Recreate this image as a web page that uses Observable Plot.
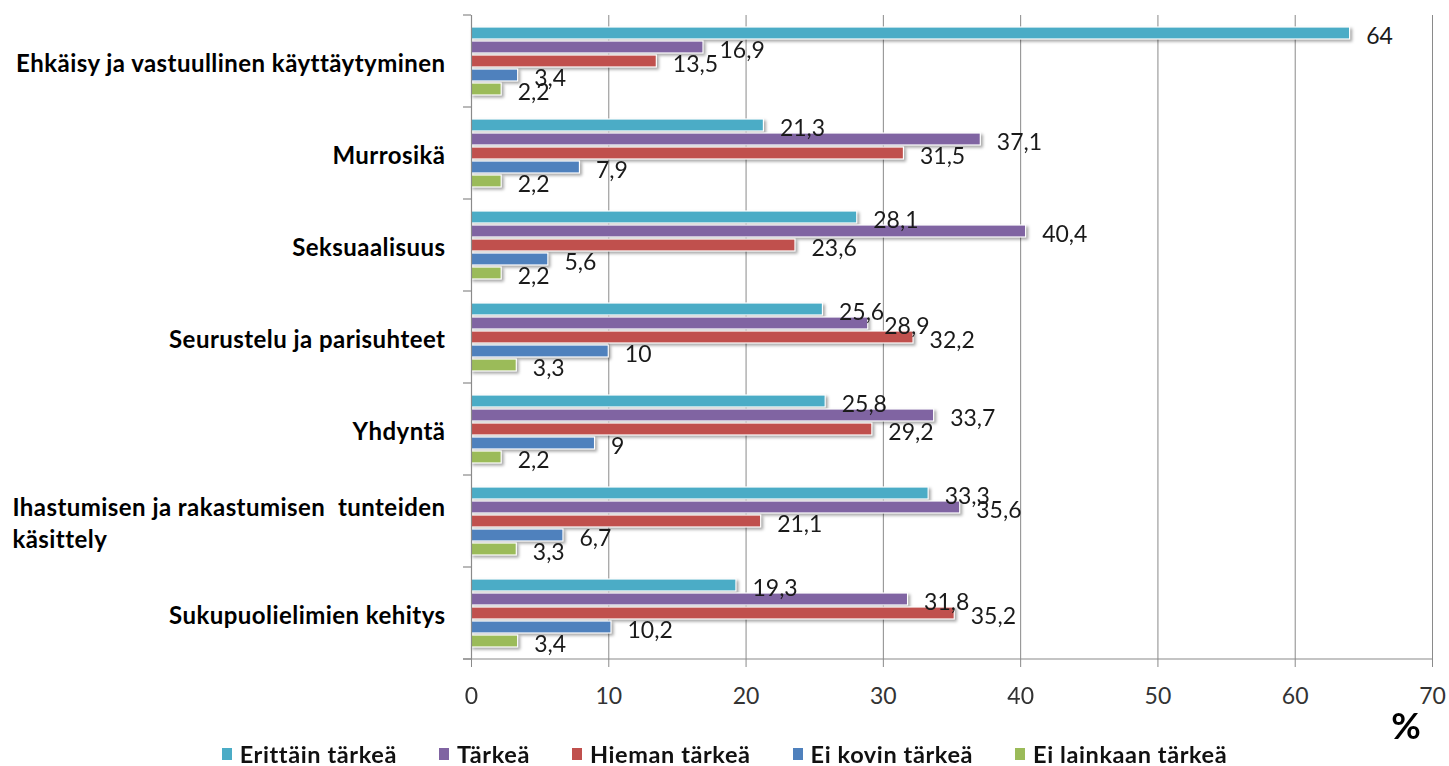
<!DOCTYPE html>
<html>
<head>
<meta charset="utf-8">
<script src="https://cdn.jsdelivr.net/npm/d3@7"></script>
<script src="https://cdn.jsdelivr.net/npm/@observablehq/plot@0.6"></script>
<style>
  html, body { margin: 0; padding: 0; background: #fff; }
  body { font-family: Lato, "Open Sans", sans-serif; width: 1449px; height: 766px; overflow: hidden; }
  #chart svg { display: block; }
  #legend { display: flex; justify-content: center; align-items: center; gap: 42px;
            height: 24px; font-family: Lato, sans-serif; font-weight: bold; font-size: 23.5px;
            letter-spacing: 0.6px; color: #111; }
  #legend .item { display: flex; align-items: center; white-space: nowrap; }
  #legend .sw { display: inline-block; width: 10px; height: 12px; margin-right: 8px; }
</style>
</head>
<body>
<div id="chart"></div>
<div id="legend"></div>
<script>
// ---- data ----
const categories = [
  "Ehkäisy ja vastuullinen käyttäytyminen",
  "Murrosikä",
  "Seksuaalisuus",
  "Seurustelu ja parisuhteet",
  "Yhdyntä",
  "Ihastumisen ja rakastumisen  tunteiden käsittely",
  "Sukupuolielimien kehitys"
];
const categoryLabels = [
  "Ehkäisy ja vastuullinen käyttäytyminen",
  "Murrosikä",
  "Seksuaalisuus",
  "Seurustelu ja parisuhteet",
  "Yhdyntä",
  "Ihastumisen ja rakastumisen  tunteiden\nkäsittely",
  "Sukupuolielimien kehitys"
];
const seriesNames = ["Erittäin tärkeä", "Tärkeä", "Hieman tärkeä", "Ei kovin tärkeä", "Ei lainkaan tärkeä"];
const seriesColors = ["#4BACC6", "#8064A2", "#C0504D", "#4F81BD", "#9BBB59"];
const erittainTarkea   = [64, 21.3, 28.1, 25.6, 25.8, 33.3, 19.3];
const tarkea           = [16.9, 37.1, 40.4, 28.9, 33.7, 35.6, 31.8];
const hiemanTarkea     = [13.5, 31.5, 23.6, 32.2, 29.2, 21.1, 35.2];
const eiKovinTarkea    = [3.4, 7.9, 5.6, 10, 9, 6.7, 10.2];
const eiLainkaanTarkea = [2.2, 2.2, 2.2, 3.3, 2.2, 3.3, 3.4];
const xTicks = [0, 10, 20, 30, 40, 50, 60, 70];
const unitLabel = "%";

const seriesValues = [erittainTarkea, tarkea, hiemanTarkea, eiKovinTarkea, eiLainkaanTarkea];
const data = categories.flatMap((c, i) =>
  seriesNames.map((s, j) => ({category: c, series: s, value: seriesValues[j][i]})));
const fmt = v => String(v).replace(".", ",");
const labelOf = new Map(categories.map((c, i) => [c, categoryLabels[i]]));

const gridColor = "#8a8a8a";

const chart = Plot.plot({
  width: 1449,
  height: 742,
  marginLeft: 471,
  marginRight: 17,
  marginTop: 12,
  marginBottom: 81,
  style: {fontFamily: "Lato, 'Open Sans', sans-serif", background: "#fff", overflow: "visible"},
  x: {domain: [0, 70]},
  y: {domain: seriesNames, paddingInner: 0.12, paddingOuter: 0.757, axis: null},
  fy: {domain: categories, padding: 0},
  color: {domain: seriesNames, range: seriesColors},
  marks: [
    Plot.ruleX(xTicks.slice(1), {stroke: gridColor, strokeWidth: 1}),
    Plot.barX(data, {x: "value", y: "series", fy: "category", fill: "series", stroke: "white", strokeWidth: 1.2}),
    Plot.ruleX([0], {stroke: gridColor, strokeWidth: 1.2}),
    Plot.text(data, {x: "value", y: "series", fy: "category", text: d => fmt(d.value),
      textAnchor: "start", dx: 16, dy: 3, fontSize: 23, fill: "#1a1a1a"}),
    Plot.axisX({ticks: xTicks, tickSize: 8, tickPadding: 20, fontSize: 23, color: "#333", stroke: gridColor, label: null}),
    Plot.axisFy({anchor: "left", tickSize: 0, tickPadding: 26, fontSize: 24, fontWeight: "bold", color: "#000",
      lineHeight: 1.33, tickFormat: d => labelOf.get(d), label: null})
  ]
});

document.getElementById("chart").appendChild(chart);

// styling touches: drop shadow on bars, letter spacing on category labels
d3.select(chart).selectAll('g[aria-label="bar"]')
  .style("filter", "drop-shadow(2px 2px 1.5px rgba(0,0,0,0.35))");
d3.select(chart).selectAll('g[aria-label="fy-axis tick label"]')
  .style("letter-spacing", "0.45px");

// left-align wrapped category label lines
d3.select(chart).selectAll('g[aria-label="fy-axis tick label"] text').each(function() {
  const tspans = Array.from(this.querySelectorAll("tspan"));
  if (tspans.length > 1) {
    const w = d3.max(tspans, t => t.getComputedTextLength());
    this.setAttribute("text-anchor", "start");
    tspans.forEach(t => t.setAttribute("x", -w));
  }
});

// axis line and category boundary stubs, from the plot's own scales
const fy = chart.scale("fy");
const xs = chart.scale("x");
const x0 = xs.apply(0), x70 = xs.apply(70);
const bounds = categories.map(c => fy.apply(c)).concat([fy.apply(categories[categories.length - 1]) + fy.bandwidth]);
const yBottom = bounds[bounds.length - 1];
const g = d3.select(chart).append("g").attr("stroke", gridColor).attr("stroke-width", 1.2);
bounds.forEach(b => g.append("line").attr("x1", x0 - 8).attr("x2", x0).attr("y1", b).attr("y2", b));
g.append("line").attr("x1", x0 - 8).attr("x2", x70).attr("y1", yBottom).attr("y2", yBottom);
d3.select(chart).append("text")
  .attr("x", x70 - 26).attr("y", yBottom + 80)
  .attr("text-anchor", "middle")
  .attr("font-size", 36).attr("font-weight", "bold").attr("fill", "#000")
  .text(unitLabel);

// legend
document.getElementById("legend").innerHTML = seriesNames.map((s, i) =>
  `<span class="item"><span class="sw" style="background:${seriesColors[i]}"></span>${s}</span>`).join("");
</script>
</body>
</html>
